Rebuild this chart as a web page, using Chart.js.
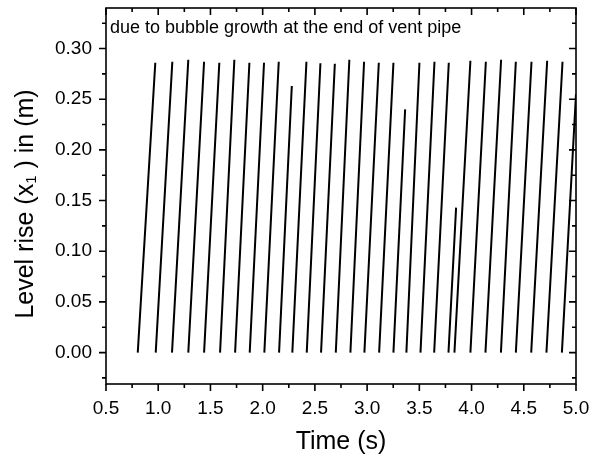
<!DOCTYPE html>
<html>
<head>
<meta charset="utf-8">
<script src="https://cdn.jsdelivr.net/npm/chart.js@4/dist/chart.umd.min.js"></script>
<style>
    html, body { margin: 0; padding: 0; background: #fff; }
    #caja { width: 597px; height: 461px; }
</style>
</head>
<body>
<div id="caja"><canvas id="graficoNivel"></canvas></div>
<script>
//* each rise: starts at 0 at riseStart, reaches peakLevel at riseEnd (s, m)
const riseStart = [0.804, 0.976, 1.132, 1.288, 1.439, 1.592, 1.736, 1.876, 2.016, 2.157,
                   2.284, 2.422, 2.559, 2.700, 2.840, 2.974, 3.115, 3.252, 3.376, 3.511,
                   3.642, 3.779, 3.836, 3.989, 4.133, 4.281, 4.424, 4.571, 4.717, 4.865];
const riseEnd = [0.972, 1.135, 1.288, 1.439, 1.585, 1.729, 1.873, 2.013, 2.154, 2.279,
                 2.419, 2.553, 2.691, 2.830, 2.971, 3.112, 3.252, 3.364, 3.501, 3.645,
                 3.782, 3.852, 3.989, 4.137, 4.283, 4.424, 4.574, 4.724, 4.871, 5.000];
const peakLevel = [0.286, 0.287, 0.289, 0.287, 0.286, 0.289, 0.286, 0.286, 0.287, 0.263,
                   0.287, 0.2855, 0.285, 0.289, 0.287, 0.286, 0.286, 0.240, 0.286, 0.287,
                   0.286, 0.143, 0.288, 0.287, 0.289, 0.287, 0.287, 0.288, 0.287, 0.255];

const xTicks = [0.5, 1.0, 1.5, 2.0, 2.5, 3.0, 3.5, 4.0, 4.5, 5.0];
const yTicks = [0.00, 0.05, 0.10, 0.15, 0.20, 0.25, 0.30];
const xMinor = [0.75, 1.25, 1.75, 2.25, 2.75, 3.25, 3.75, 4.25, 4.75];
const yMinor = [-0.025, 0.025, 0.075, 0.125, 0.175, 0.225, 0.275, 0.325];

const nota = 'due to bubble growth at the end of vent pipe';
const fuente = '"Liberation Sans", Arial, sans-serif';

//* points with a null between rises so the drop is not drawn
const puntos = [];
riseStart.forEach((t, i) => {
    puntos.push({ x: t, y: 0 });
    puntos.push({ x: riseEnd[i], y: peakLevel[i] });
    puntos.push({ x: riseEnd[i], y: null });
});

//* frame, ticks (out on bottom/left, in on top/right), note and y title
const marco = {
    id: 'marco',
    afterDraw(chart) {
        const { ctx, chartArea: a, scales: { x, y } } = chart;
        ctx.save();
        ctx.strokeStyle = '#000';
        ctx.lineWidth = 1.6;
        ctx.strokeRect(a.left, a.top, a.right - a.left, a.bottom - a.top);
        ctx.beginPath();
        const tickX = (v, len) => {
            const px = x.getPixelForValue(v);
            ctx.moveTo(px, a.bottom); ctx.lineTo(px, a.bottom + len);
            ctx.moveTo(px, a.top); ctx.lineTo(px, a.top + len);
        };
        const tickY = (v, len) => {
            const py = y.getPixelForValue(v);
            ctx.moveTo(a.left, py); ctx.lineTo(a.left - len, py);
            ctx.moveTo(a.right, py); ctx.lineTo(a.right - len, py);
        };
        xTicks.forEach(v => tickX(v, 7));
        xMinor.forEach(v => tickX(v, 4));
        yTicks.forEach(v => tickY(v, 7));
        yMinor.forEach(v => tickY(v, 4));
        ctx.stroke();

        ctx.fillStyle = '#000';
        ctx.font = '18px ' + fuente;
        ctx.textBaseline = 'alphabetic';
        ctx.fillText(nota, a.left + 4, a.top + 25);

        //* y title with subscript
        ctx.translate(26, (a.top + a.bottom) / 2 + 8);
        ctx.rotate(-Math.PI / 2);
        ctx.textBaseline = 'middle';
        const big = '25px ' + fuente, small = '15px ' + fuente;
        const partes = [['Level rise (x', big, 0], ['1', small, 6], [' ) in (m)', big, 0]];
        let ancho = 0;
        partes.forEach(p => { ctx.font = p[1]; ancho += ctx.measureText(p[0]).width; });
        let px = -ancho / 2;
        partes.forEach(p => {
            ctx.font = p[1];
            ctx.fillText(p[0], px, p[2]);
            px += ctx.measureText(p[0]).width;
        });
        ctx.restore();
    }
};

new Chart(document.getElementById('graficoNivel').getContext('2d'), {
    type: 'line',
    data: {
        datasets: [{
            data: puntos,
            borderColor: '#000',
            borderWidth: 2,
            pointRadius: 0,
            spanGaps: false,
            tension: 0
        }]
    },
    options: {
        responsive: true,
        maintainAspectRatio: false,
        animation: false,
        layout: { padding: { top: 8, right: 21, left: 0, bottom: 0 } },
        plugins: { legend: { display: false }, tooltip: { enabled: false } },
        scales: {
            x: {
                type: 'linear',
                min: 0.5,
                max: 5.0,
                afterBuildTicks: s => { s.ticks = xTicks.map(v => ({ value: v })); },
                afterFit: s => { s.height = 77; s.paddingLeft = 0; s.paddingRight = 0; },
                grid: { display: false, drawTicks: false },
                border: { display: false },
                ticks: {
                    color: '#000',
                    font: { family: fuente, size: 19 },
                    padding: 13,
                    maxRotation: 0,
                    callback: v => Number(v).toFixed(1)
                },
                title: {
                    display: true,
                    text: 'Time (s)',
                    color: '#000',
                    font: { family: fuente, size: 25 },
                    padding: { top: 0, bottom: 4 }
                }
            },
            y: {
                min: -0.031,
                max: 0.34,
                afterBuildTicks: s => { s.ticks = yTicks.map(v => ({ value: v })); },
                afterFit: s => { s.width = 106; s.paddingTop = 0; s.paddingBottom = 0; },
                grid: { display: false, drawTicks: false },
                border: { display: false },
                ticks: {
                    color: '#000',
                    font: { family: fuente, size: 19 },
                    padding: 14,
                    callback: v => Number(v).toFixed(2)
                }
            }
        }
    },
    plugins: [marco]
});
</script>
</body>
</html>
